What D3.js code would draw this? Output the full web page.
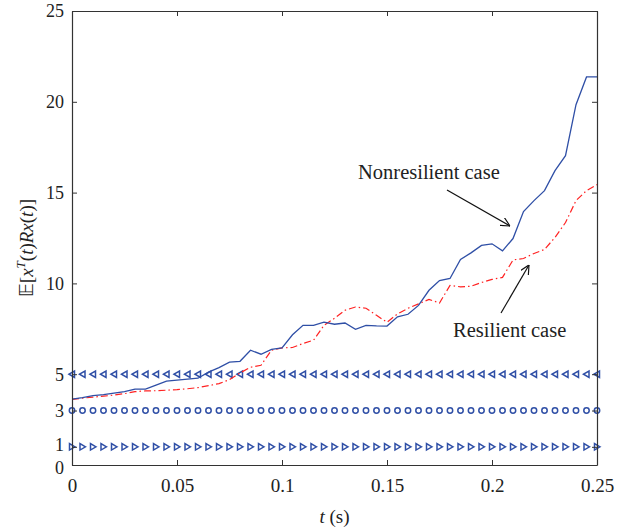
<!DOCTYPE html>
<html>
<head>
<meta charset="utf-8">
<script src="https://cdn.jsdelivr.net/npm/d3@7"></script>
<style>
  body { margin: 0; background: #fff; }
  text { font-family: "Liberation Serif", "DejaVu Serif", serif; fill: #222; }
</style>
</head>
<body>
<svg id="chart" width="621" height="531"></svg>
<script>
// sample times, step 0.005 s
const times = d3.range(51).map(i => +(i * 0.005).toFixed(3));

const nonresilient = [
    3.63, 3.71, 3.82, 3.87, 3.96, 4.04, 4.18, 4.18, 4.40, 4.62,
    4.67, 4.73, 4.78, 5.11, 5.36, 5.66, 5.71, 6.32, 6.10, 6.37,
    6.45, 7.17, 7.69, 7.69, 7.87, 7.75, 7.82, 7.47, 7.69, 7.66,
    7.65, 8.16, 8.30, 8.79, 9.62, 10.16, 10.27, 11.32, 11.68, 12.09,
    12.18, 11.79, 12.47, 13.96, 14.56, 15.11, 16.21, 17.03, 19.84, 21.37,
    21.37
];
const resilient = [
    3.61, 3.68, 3.74, 3.79, 3.85, 3.93, 4.04, 4.08, 4.09, 4.12,
    4.15, 4.20, 4.26, 4.37, 4.48, 4.70, 5.07, 5.38, 5.49, 6.32,
    6.45, 6.47, 6.69, 6.87, 7.69, 8.08, 8.52, 8.70, 8.63, 8.24,
    7.86, 8.32, 8.63, 8.87, 9.12, 8.92, 9.89, 9.81, 9.84, 10.05,
    10.22, 10.33, 11.29, 11.37, 11.65, 11.87, 12.53, 13.35, 14.56, 15.11,
    15.44
];
// constant reference levels drawn with markers
const levels = [
    {value: 5, marker: 'left'},
    {value: 3, marker: 'circle'},
    {value: 1, marker: 'right'}
];
const xTicks = [0, 0.05, 0.1, 0.15, 0.2, 0.25];
const yTicks = [0, 1, 3, 5, 10, 15, 20, 25];

const margin = {left: 72, right: 24, top: 11, bottom: 66};
const W = 621, H = 531;
const svg = d3.select('#chart');
const x = d3.scaleLinear().domain([0, 0.25]).range([margin.left, W - margin.right]);
const y = d3.scaleLinear().domain([0, 25]).range([H - margin.bottom, margin.top]);

const blue = '#2f4fa6', red = '#ff2222';

const plot = svg.append('g');

// level markers
const levelG = plot.append('g');
levels.forEach(lv => {
    const g = levelG.append('g');
    times.forEach(t => {
        const cx = x(t), cy = y(lv.value);
        if (lv.marker === 'circle') {
            g.append('circle').attr('cx', cx).attr('cy', cy).attr('r', 2.7)
                .attr('fill', 'none').attr('stroke', blue).attr('stroke-width', 1.5);
        } else {
            const s = lv.marker === 'left' ? -1 : 1;
            g.append('path')
                .attr('d', `M${cx + s * 3},${cy} L${cx - s * 2.5},${cy - 3.2} L${cx - s * 2.5},${cy + 3.2} Z`)
                .attr('fill', 'none').attr('stroke', blue).attr('stroke-width', 1.5)
                .attr('stroke-linejoin', 'miter');
        }
    });
});

const line = d3.line().x((d, i) => x(times[i])).y(d => y(d));

plot.append('path').datum(resilient)
    .attr('d', line).attr('fill', 'none')
    .attr('stroke', red).attr('stroke-width', 1.2)
    .attr('stroke-dasharray', '7,3,1.5,3');

plot.append('path').datum(nonresilient)
    .attr('d', line).attr('fill', 'none')
    .attr('stroke', blue).attr('stroke-width', 1.3);

// axes box with inward ticks on all sides
const axisG = svg.append('g');
const bottomAx = d3.axisBottom(x).tickValues(xTicks).tickSizeInner(-5).tickSizeOuter(0)
    .tickFormat(d => d === 0 ? '0' : String(d));
const leftAx = d3.axisLeft(y).tickValues(yTicks).tickSizeInner(-5).tickSizeOuter(0)
    .tickFormat(d3.format('d'));

const gb = axisG.append('g').attr('transform', `translate(0,${y(0)})`).call(bottomAx);
gb.selectAll('text').attr('y', 10).attr('dy', '0.9em').style('font-size', '19px');
const gl = axisG.append('g').attr('transform', `translate(${x(0)},0)`).call(leftAx);
gl.selectAll('text').attr('x', -8).attr('dy', '0.33em').style('font-size', '18px');
// 0 and 1 sit very close together, nudge them apart a little
gl.selectAll('.tick').filter(d => d === 0).select('text').attr('y', 3);
gl.selectAll('.tick').filter(d => d === 1).select('text').attr('y', -2);

axisG.append('g').attr('transform', `translate(0,${y(25)})`)
    .call(d3.axisTop(x).tickValues(xTicks).tickSizeInner(-5).tickSizeOuter(0).tickFormat(''));
axisG.append('g').attr('transform', `translate(${x(0.25)},0)`)
    .call(d3.axisRight(y).tickValues(yTicks).tickSizeInner(-5).tickSizeOuter(0).tickFormat(''));

axisG.selectAll('.domain').attr('stroke', '#333').attr('stroke-width', 1.2);
axisG.selectAll('.tick line').attr('stroke', '#333');

// axis titles
svg.append('text')
    .attr('x', (x(0) + x(0.25)) / 2).attr('y', 523)
    .attr('text-anchor', 'middle').style('font-size', '19px')
    .html('<tspan font-style="italic">t</tspan> (s)');

svg.append('text')
    .attr('transform', `translate(33,${(y(0) + y(25)) / 2 + 10}) rotate(-90)`)
    .attr('text-anchor', 'middle').style('font-size', '19px')
    .html('<tspan font-family="DejaVu Sans">𝔼</tspan>[<tspan font-style="italic">x</tspan><tspan font-style="italic" dy="-8" font-size="13">T</tspan><tspan dy="8">(</tspan><tspan font-style="italic">t</tspan>)<tspan font-style="italic">Rx</tspan>(<tspan font-style="italic">t</tspan>)]');

// annotations
svg.append('defs').append('marker')
    .attr('id', 'arr').attr('viewBox', '0 0 10 10').attr('refX', 10).attr('refY', 5)
    .attr('markerWidth', 9).attr('markerHeight', 9).attr('orient', 'auto-start-reverse')
    .attr('markerUnits', 'userSpaceOnUse')
    .append('path').attr('d', 'M0,0 L10,5 L0,10').attr('fill', 'none')
    .attr('stroke', '#111').attr('stroke-width', 1.3);

svg.append('text').attr('x', 358).attr('y', 179).style('font-size', '20.5px').text('Nonresilient case');
svg.append('line').attr('x1', 447).attr('y1', 190).attr('x2', 510).attr('y2', 226)
    .attr('stroke', '#111').attr('stroke-width', 1.2).attr('marker-end', 'url(#arr)');

svg.append('text').attr('x', 453).attr('y', 337).style('font-size', '20.5px').text('Resilient case');
svg.append('line').attr('x1', 501).attr('y1', 313).attr('x2', 529).attr('y2', 265)
    .attr('stroke', '#111').attr('stroke-width', 1.2).attr('marker-end', 'url(#arr)');
</script>
</body>
</html>
